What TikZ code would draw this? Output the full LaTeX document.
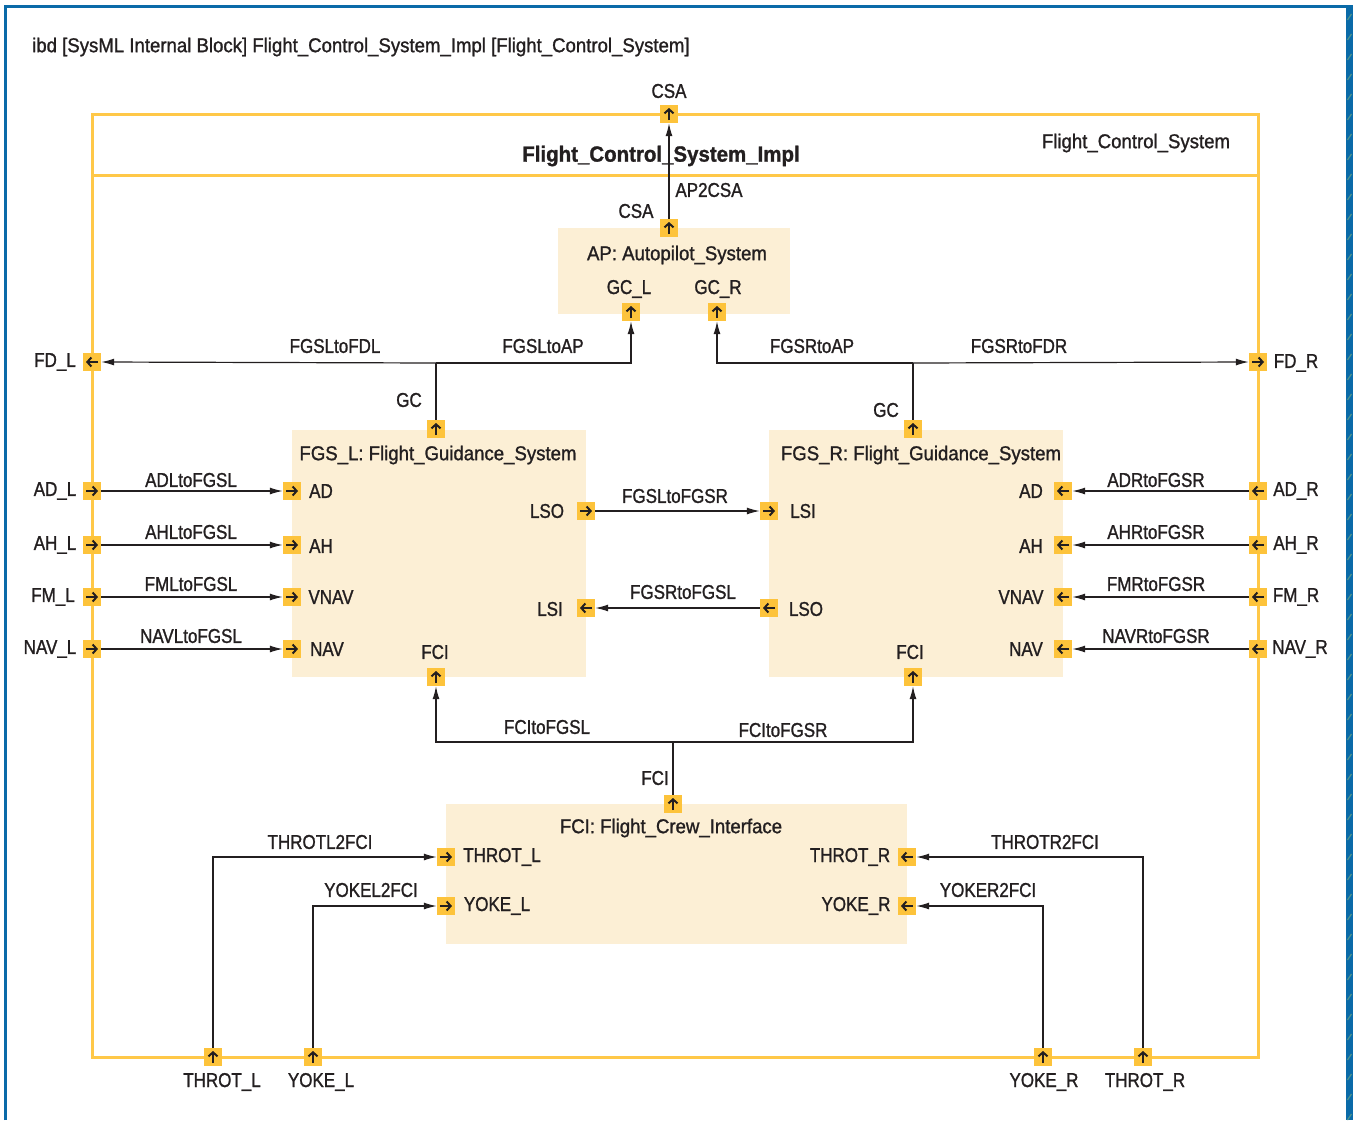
\documentclass[tikz,border=0pt]{standalone}
\usepackage{fontspec}
\setmainfont{Liberation Sans}[FakeStretch=0.85, FakeBold=1.2]
\newfontfamily\widefont{Liberation Sans}[FakeStretch=0.93, FakeBold=1.2]
\usetikzlibrary{arrows.meta}

\definecolor{frameblue}{RGB}{10,106,168}
\definecolor{hatchgreen}{RGB}{80,150,140}
\definecolor{blockline}{RGB}{255,200,72}
\definecolor{portfill}{RGB}{253,195,59}
\definecolor{partfill}{RGB}{252,239,213}
\definecolor{ink}{RGB}{35,31,32}

\tikzset{
  port/.style={draw=none, fill=portfill, minimum size=18pt, inner sep=0pt},
  parrow/.style={ink, line width=2pt, -{Straight Barb[length=4pt,width=9pt]}},
  portR/.style={port, path picture={\draw[parrow] ([xshift=-6pt]path picture bounding box.center) -- ([xshift=6pt]path picture bounding box.center);}},
  portL/.style={port, path picture={\draw[parrow] ([xshift=6pt]path picture bounding box.center) -- ([xshift=-6pt]path picture bounding box.center);}},
  portU/.style={port, path picture={\draw[parrow] ([yshift=-6pt]path picture bounding box.center) -- ([yshift=6pt]path picture bounding box.center);}},
  part/.style={fill=partfill, draw=none, inner sep=0pt},
  conn/.style={ink, line width=1.2pt},
  flow/.style={conn, -{Latex[length=13pt,width=7pt]}},
  lbl/.style={inner sep=0pt, text=ink, font=\fontsize{20}{24}\selectfont},
  wlbl/.style={lbl, font=\widefont\fontsize{20}{24}\selectfont},
}

\begin{document}
\begin{tikzpicture}[x=1pt,y=-1pt]
  \useasboundingbox (0,0) rectangle (1353,1120);
  % outer frame
  \draw[frameblue, line width=3pt] (5,1120) -- (5,6) -- (1347,6);
  \fill[frameblue] (1346,5) rectangle (1353,1120);
  \foreach \y in {14,34,...,1114}{
    \draw[hatchgreen, line width=1.2pt] (1347.5,\y+6) -- (1351.5,\y);
  }
  \node[wlbl, anchor=west] (title) at (32,47) {ibd [SysML Internal Block] Flight\_Control\_System\_Impl [Flight\_Control\_System]};

  % system block
  \draw[blockline, line width=3pt] (92,114) rectangle (1258,1057);
  \draw[blockline, line width=3pt] (92,175) -- (1258,175);
  \node[lbl, font=\widefont\bfseries\fontsize{22}{26}\selectfont] (impl) at (661,156) {Flight\_Control\_System\_Impl};
  \node[wlbl] (sys) at (1136,143) {Flight\_Control\_System};

  % parts
  \node[part, minimum width=232pt, minimum height=86pt] (ap) at (674,271) {};
  \node[part, minimum width=294pt, minimum height=247pt] (fgsl) at (439,553.5) {};
  \node[part, minimum width=294pt, minimum height=247pt] (fgsr) at (916,553.5) {};
  \node[part, minimum width=461pt, minimum height=140pt] (fci) at (676.5,874) {};
  \node[wlbl] (tAP) at (677,255) {AP: Autopilot\_System};
  \node[wlbl] (tFGSL) at (438,455) {FGS\_L: Flight\_Guidance\_System};
  \node[wlbl] (tFGSR) at (921,455) {FGS\_R: Flight\_Guidance\_System};
  \node[wlbl] (tFCI) at (671,828) {FCI: Flight\_Crew\_Interface};

  % ports
  \foreach \n/\x/\y/\d in {
    csaO/669/114/U, csaAP/669/228/U, gcLap/631/312/U, gcRap/717/312/U,
    fdL/92/362/L, fdR/1258/362/R, gcL/436/429/U, gcR/913/429/U,
    adL/92/491/R, ahL/92/545/R, fmL/92/597/R, navL/92/649/R,
    adR/1258/491/L, ahR/1258/545/L, fmR/1258/597/L, navR/1258/649/L,
    lAD/292/491/R, lAH/292/545/R, lVNAV/292/597/R, lNAV/292/649/R,
    lLSO/586/511/R, lLSI/586/608/L, lFCI/436/677/U,
    rLSI/769/511/R, rLSO/769/608/L, rFCI/913/677/U,
    rAD/1063/491/L, rAH/1063/545/L, rVNAV/1063/597/L, rNAV/1063/649/L,
    fciFCI/673/804/U, fciTL/446/857/R, fciYL/446/906/R, fciTR/907/857/L, fciYR/907/906/L,
    throtL/213/1057/U, yokeL/313/1057/U, yokeR/1043/1057/U, throtR/1143/1057/U}{
    \node[port\d] (\n) at (\x,\y) {};
  }

  % port labels
  \foreach \n/\x/\y/\t in {
    tCSAo/669/91/CSA, tCSAap/636/211/CSA,
    tGCL/629/289/GC\_L, tGCR/718/289/GC\_R, tFDL/55/362/FD\_L, tFDR/1296/363/FD\_R,
    tGCl/409/400/GC, tGCr/886/410/GC,
    tADL/55/491/AD\_L, tAHL/55/545/AH\_L, tFML/53/597/FM\_L, tNAVL/50/649/NAV\_L,
    tADR/1296/491/AD\_R, tAHR/1296/545/AH\_R, tFMR/1296/597/FM\_R, tNAVR/1300/649/NAV\_R,
    tlAD/321/491/AD, tlAH/321/546/AH, tlVNAV/331/597/VNAV, tlNAV/327/649/NAV,
    tlLSO/547/511/LSO, tlLSI/550/609/LSI, tlFCI/435/652/FCI,
    trLSI/803/511/LSI, trLSO/806/609/LSO, trFCI/910/652/FCI,
    trAD/1031/491/AD, trAH/1031/546/AH, trVNAV/1021/597/VNAV, trNAV/1026/649/NAV,
    tFCIp/655/778/FCI,
    tTL/502/857/THROT\_L, tYL/497/906/YOKE\_L, tTR/850/857/THROT\_R, tYR/856/906/YOKE\_R,
    tTHL/222/1082/THROT\_L, tYKL/321/1082/YOKE\_L, tYKR/1044/1082/YOKE\_R, tTHR/1145/1082/THROT\_R}{
    \node[lbl] (\n) at (\x,\y) {\t};
  }

  % connector labels
  \foreach \n/\x/\y/\t in {
    cAP2CSA/709/190/AP2CSA, cFGSLtoFDL/335/346/FGSLtoFDL, cFGSLtoAP/543/346/FGSLtoAP,
    cFGSRtoAP/812/346/FGSRtoAP, cFGSRtoFDR/1019/346/FGSRtoFDR,
    cADL/191/480/ADLtoFGSL, cAHL/191/532/AHLtoFGSL, cFML/191/584/FMLtoFGSL, cNAVL/191/636/NAVLtoFGSL,
    cADR/1156/480/ADRtoFGSR, cAHR/1156/532/AHRtoFGSR, cFMR/1156/584/FMRtoFGSR, cNAVR/1156/636/NAVRtoFGSR,
    cLtoR/675/496/FGSLtoFGSR, cRtoL/683/592/FGSRtoFGSL,
    cFCIL/547/727/FCItoFGSL, cFCIR/783/730/FCItoFGSR,
    cTL/320/842/THROTL2FCI, cYL/371/890/YOKEL2FCI, cTR/1045/842/THROTR2FCI, cYR/988/890/YOKER2FCI}{
    \node[lbl] (\n) at (\x,\y) {\t};
  }

  % connectors
  \coordinate (jl) at (436,363);
  \coordinate (jr) at (913,363);
  \coordinate (jc) at (673,742);
  \draw[flow] (csaAP.north) -- (csaO.south);
  \draw[conn] (gcL.north) -- (jl);
  \draw[flow] (jl) -- (fdL.east);
  \draw[flow] (jl) -| (gcLap.south);
  \draw[conn] (gcR.north) -- (jr);
  \draw[flow] (jr) -- (fdR.west);
  \draw[flow] (jr) -| (gcRap.south);
  \foreach \a/\b in {adL/lAD, ahL/lAH, fmL/lVNAV, navL/lNAV, lLSO/rLSI}{
    \draw[flow] (\a.east) -- (\b.west);
  }
  \foreach \a/\b in {adR/rAD, ahR/rAH, fmR/rVNAV, navR/rNAV, rLSO/lLSI}{
    \draw[flow] (\a.west) -- (\b.east);
  }
  \draw[conn] (fciFCI.north) -- (jc);
  \draw[flow] (jc) -| (lFCI.south);
  \draw[flow] (jc) -| (rFCI.south);
  \draw[flow] (throtL.north) |- (fciTL.west);
  \draw[flow] (yokeL.north) |- (fciYL.west);
  \draw[flow] (throtR.north) |- (fciTR.east);
  \draw[flow] (yokeR.north) |- (fciYR.east);
\end{tikzpicture}
\end{document}
